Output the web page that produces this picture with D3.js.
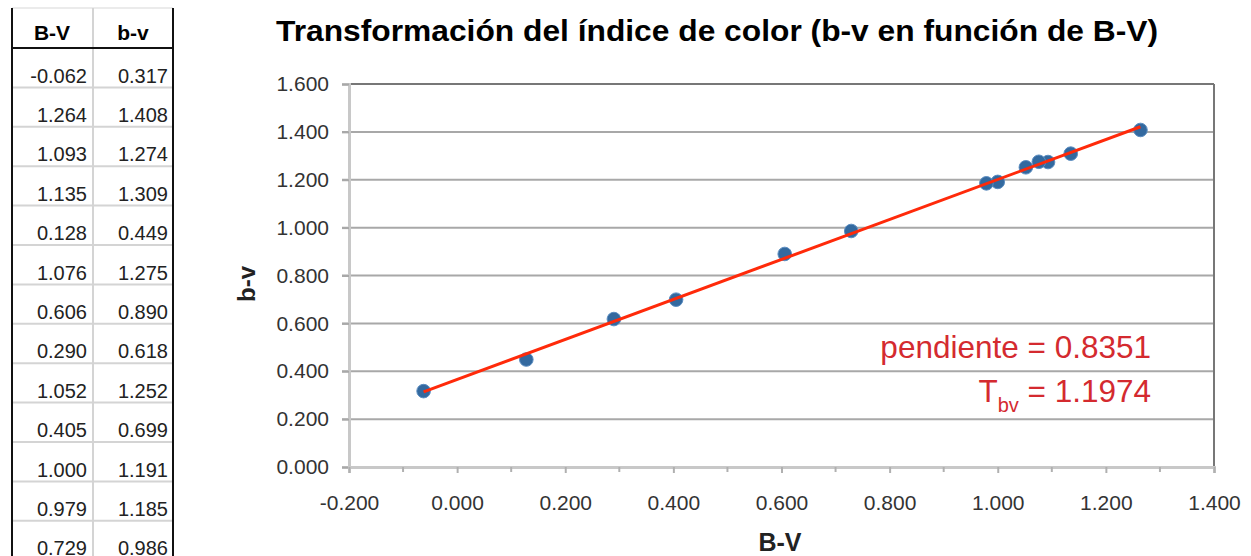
<!DOCTYPE html>
<html>
<head>
<meta charset="utf-8">
<script src="https://cdn.jsdelivr.net/npm/d3@7"></script>
<style>
  html, body { margin: 0; padding: 0; background: #fff; }
  svg { display: block; font-family: "Liberation Sans", Arial, sans-serif; }
</style>
</head>
<body>
<svg id="chart" width="1251" height="556"></svg>
<script>
// ---- data ----
const BV = [-0.062, 1.264, 1.093, 1.135, 0.128, 1.076, 0.606, 0.290, 1.052, 0.405, 1.000, 0.979, 0.729];
const bv = [0.317, 1.408, 1.274, 1.309, 0.449, 1.275, 0.890, 0.618, 1.252, 0.699, 1.191, 1.185, 0.986];
const xTicks = [-0.2, 0.0, 0.2, 0.4, 0.6, 0.8, 1.0, 1.2, 1.4];
const xMinorTicks = [-0.1, 0.1, 0.3, 0.5, 0.7, 0.9, 1.1, 1.3];
const yTicks = [0.0, 0.2, 0.4, 0.6, 0.8, 1.0, 1.2, 1.4, 1.6];
const tableHeaders = ["B-V", "b-v"];
const titleText = "Transformación del índice de color (b-v en función de B-V)";
const slopeLabel = "pendiente = 0.8351";
const tbvValue = "1.1974";

const svg = d3.select("#chart");
const fmt = d => d3.format(".3f")(d).replace("\u2212", "-");

// ---- table ----
const tb = svg.append("g");
const tLeft = 12, tMid = 93, tRight = 173, tHeadBottom = 48, rowH = 39.4;
BV.forEach((d, i) => {
  const yy = tHeadBottom + (i + 1) * rowH;
  tb.append("line").attr("x1", tLeft).attr("x2", tRight).attr("y1", yy).attr("y2", yy)
    .attr("stroke", "#d4d4d4").attr("stroke-width", 2);
});
tb.append("line").attr("x1", tLeft).attr("x2", tRight).attr("y1", 8).attr("y2", 8)
  .attr("stroke", "#e4e4e4").attr("stroke-width", 1.5);
tb.append("line").attr("x1", tMid).attr("x2", tMid).attr("y1", 8).attr("y2", 556)
  .attr("stroke", "#d4d4d4").attr("stroke-width", 2);
tb.append("line").attr("x1", tLeft).attr("x2", tLeft).attr("y1", 8).attr("y2", 556)
  .attr("stroke", "#111").attr("stroke-width", 2);
tb.append("line").attr("x1", tRight).attr("x2", tRight).attr("y1", 8).attr("y2", 556)
  .attr("stroke", "#111").attr("stroke-width", 2);
tb.append("line").attr("x1", tLeft).attr("x2", tRight).attr("y1", tHeadBottom).attr("y2", tHeadBottom)
  .attr("stroke", "#111").attr("stroke-width", 2);
tb.selectAll("text.h").data(tableHeaders).join("text").attr("class", "h")
  .attr("x", (d, i) => i === 0 ? 52 : 133).attr("y", 40)
  .attr("text-anchor", "middle").attr("font-weight", "bold").attr("font-size", 21)
  .attr("fill", "#000").text(d => d);
tb.selectAll("text.c1").data(BV).join("text").attr("class", "c1")
  .attr("x", 87).attr("y", (d, i) => 82.5 + i * rowH)
  .attr("text-anchor", "end").attr("font-size", 20).attr("fill", "#222").text(d => fmt(d));
tb.selectAll("text.c2").data(bv).join("text").attr("class", "c2")
  .attr("x", 168).attr("y", (d, i) => 82.5 + i * rowH)
  .attr("text-anchor", "end").attr("font-size", 20).attr("fill", "#222").text(d => fmt(d));

// ---- chart ----
const x = d3.scaleLinear().domain([-0.2, 1.4]).range([349, 1214]);
const y = d3.scaleLinear().domain([0, 1.6]).range([467, 84]);

// gridlines
svg.append("g").selectAll("line").data(yTicks.filter(d => d > 0 && d < 1.6)).join("line")
  .attr("x1", 342).attr("x2", x(1.4)).attr("y1", d => y(d)).attr("y2", d => y(d))
  .attr("stroke", "#a8a8a8").attr("stroke-width", 2);
svg.append("line").attr("x1", 342).attr("x2", x(1.4)).attr("y1", y(1.6)).attr("y2", y(1.6))
  .attr("stroke", "#777").attr("stroke-width", 2);
svg.append("line").attr("x1", x(1.4)).attr("x2", x(1.4)).attr("y1", y(1.6)).attr("y2", y(0) + 6)
  .attr("stroke", "#777").attr("stroke-width", 2);

// y axis
const yAxis = d3.axisLeft(y).tickValues(yTicks).tickFormat(fmt).tickSize(7).tickPadding(13);
const gy = svg.append("g").attr("transform", `translate(${x(-0.2)},0)`).call(yAxis);
gy.select(".domain").attr("stroke", "#c8c8c8").attr("stroke-width", 3);
gy.selectAll(".tick line").attr("stroke", "#a8a8a8").attr("stroke-width", 2);
gy.selectAll(".tick text").attr("font-size", 21).attr("fill", "#333")
  .attr("font-family", "'Liberation Sans', Arial, sans-serif");

// x axis
const xAxis = d3.axisBottom(x).tickValues(xTicks).tickFormat(fmt).tickSize(6).tickPadding(22);
const gx = svg.append("g").attr("transform", `translate(0,${y(0)})`).call(xAxis);
gx.select(".domain").attr("stroke", "#c8c8c8").attr("stroke-width", 3);
gx.selectAll(".tick line").attr("stroke", "#b0b0b0").attr("stroke-width", 2);
gx.selectAll(".tick text").attr("font-size", 21).attr("fill", "#333")
  .attr("font-family", "'Liberation Sans', Arial, sans-serif");
svg.append("g").selectAll("line").data(xMinorTicks).join("line")
  .attr("x1", d => x(d)).attr("x2", d => x(d)).attr("y1", y(0)).attr("y2", y(0) + 5)
  .attr("stroke", "#b0b0b0").attr("stroke-width", 2);

// axis titles
svg.append("text").attr("x", 780).attr("y", 551).attr("text-anchor", "middle")
  .attr("font-weight", "bold").attr("font-size", 25).attr("fill", "#222").text("B-V");
svg.append("text").attr("transform", "translate(255,284) rotate(-90)").attr("text-anchor", "middle")
  .attr("font-weight", "bold").attr("font-size", 24).attr("fill", "#222").text("b-v");

// regression trend line (least squares of the data)
const mx = d3.mean(BV), my = d3.mean(bv);
const sxy = d3.sum(BV, (d, i) => (d - mx) * (bv[i] - my));
const sxx = d3.sum(BV, d => (d - mx) * (d - mx));
const slope = sxy / sxx, icpt = my - slope * mx;
const [xmin, xmax] = d3.extent(BV);

// points
const pts = BV.map((d, i) => ({ x: d, y: bv[i] }));
svg.append("g").selectAll("circle").data(pts).join("circle")
  .attr("cx", d => x(d.x)).attr("cy", d => y(d.y)).attr("r", 6.8)
  .attr("fill", "#33699f").attr("stroke", "#5a8cc0").attr("stroke-width", 1);

svg.append("path")
  .datum([xmin, xmax].map(v => ({ x: v, y: icpt + slope * v })))
  .attr("d", d3.line().x(d => x(d.x)).y(d => y(d.y)))
  .attr("stroke", "#ff2a0a").attr("stroke-width", 3).attr("fill", "none");

// annotation
svg.append("text").attr("x", 1151).attr("y", 358).attr("text-anchor", "end")
  .attr("font-size", 31.5).attr("fill", "#d42a2f").text(slopeLabel);
const t2 = svg.append("text").attr("x", 1151).attr("y", 402).attr("text-anchor", "end")
  .attr("font-size", 31.5).attr("fill", "#d42a2f");
t2.append("tspan").text("T");
t2.append("tspan").attr("font-size", 20).attr("dy", 10).text("bv");
t2.append("tspan").attr("dy", -10).text(" = " + tbvValue);

// title
svg.append("text").attr("x", 276).attr("y", 41)
  .attr("font-weight", "bold").attr("font-size", 29).attr("fill", "#000")
  .attr("textLength", 882).attr("lengthAdjust", "spacingAndGlyphs").text(titleText);
</script>
</body>
</html>
